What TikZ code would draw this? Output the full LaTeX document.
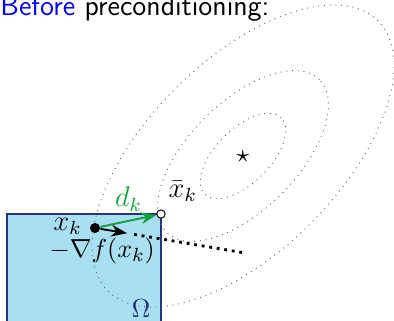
\documentclass[tikz,border=0pt,11pt]{standalone}
\usepackage{amsmath,amssymb}
\usepackage{tikz}
\usetikzlibrary{arrows.meta,positioning,calc}
\definecolor{omegafill}{RGB}{168,223,243}
\definecolor{omegadark}{RGB}{38,52,128}
\definecolor{dgreen}{RGB}{20,160,60}

\begin{document}
\begin{tikzpicture}[x=0.42pt,y=0.42pt,>=Stealth,
  level/.style={gray!80!black,dotted,thin},
  every node/.style={font=\normalsize}]
  \useasboundingbox (0,0) rectangle (394,320);
  % feasible set
  \path[fill=omegafill,draw=omegadark,thick] (7,-10) rectangle (161,106);
  \node[text=omegadark] (omega) at (141,11) {$\Omega$};
  % level sets around the minimiser
  \node (opt) at (243,164) {$\star$};
  \begin{scope}[shift={(243,164)},rotate=45]
    \draw[level] (0,0) ellipse [x radius=54,y radius=27];
    \draw[level] (0,0) ellipse [x radius=108,y radius=54];
    \draw[level] (0,0) ellipse [x radius=191,y radius=95.5];
  \end{scope}
  \node[circle,fill=black,inner sep=0pt,minimum size=4.2pt] (xk) at (95,92) {};
  \node[circle,draw=black,fill=white,inner sep=0pt,minimum size=3.5pt] (xbar) at (161,106) {};
  \node[left=-0.5pt of xk,yshift=0.8pt,font=\large] (xklab) {$x_k$};
  \node[above right=0pt and -2pt of xbar,font=\large] (xbarlab) {$\bar{x}_k$};
  \coordinate (gtip) at (127,86.8);
  \coordinate (gend) at (245,67);
  \draw[->,dgreen,thick] (xk) -- node[above,text=dgreen,font=\large]{$d_k$} (xbar);
  \draw[->,thick] (xk) -- (gtip);
  \draw[dotted,line width=1.2pt] ($(gtip)!0.06!(gend)$) -- (gend);
  \node[below=-2pt of xk,xshift=3pt] (grad) {$-\nabla f(x_k)$};
  % title
  \node[anchor=base west,inner sep=0pt,font=\large\sffamily] (title) at (0,305)
    {\textcolor{blue}{Before} preconditioning:};
\end{tikzpicture}
\end{document}
